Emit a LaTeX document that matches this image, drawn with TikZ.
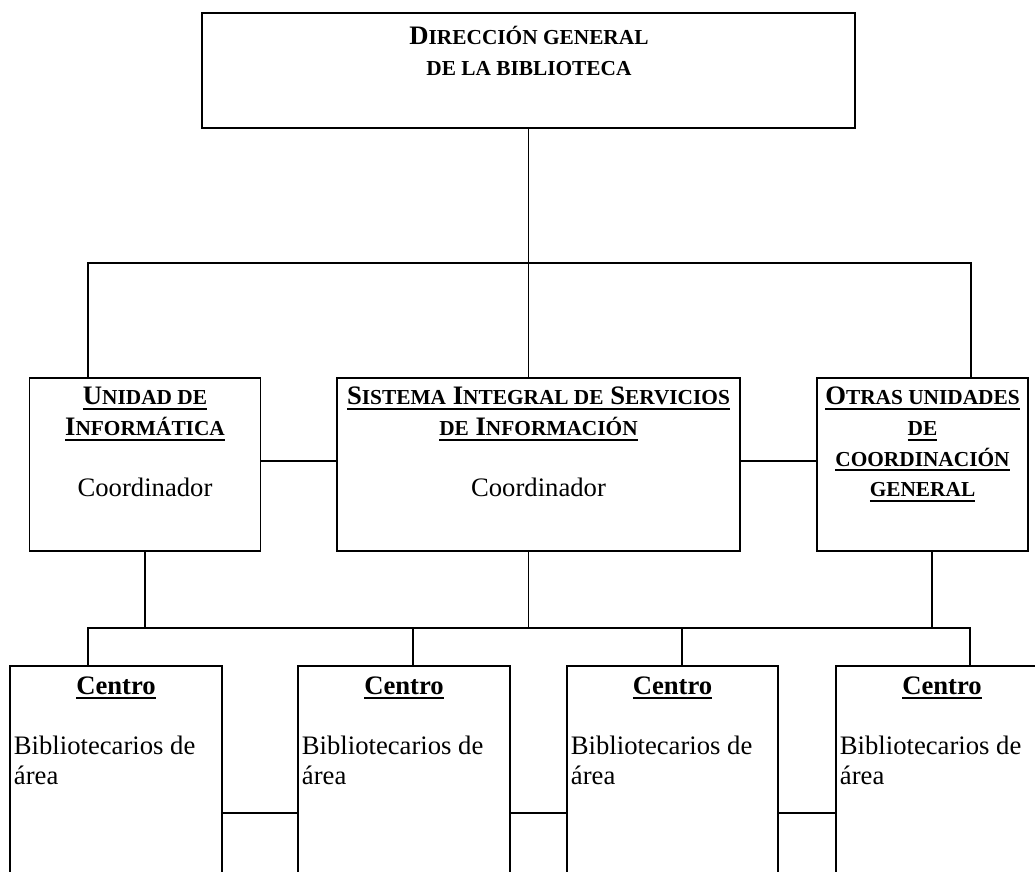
\documentclass[tikz,border=0pt]{standalone}
\usepackage{fontspec}
\setmainfont{Liberation Serif}
\usetikzlibrary{positioning}

% fake small caps and a heavy underline, as in the original chart
\newcommand\smc[1]{{\fontsize{9.6}{13.8}\selectfont\MakeUppercase{#1}}}
\newcommand\ul[1]{\setbox0\hbox{#1}\leavevmode\rlap{\rule[-2.3pt]{\wd0}{0.9pt}}\box0}
\newcommand\cstack[1]{\begin{tabular}[t]{@{}c@{}}#1\end{tabular}}
\newcommand\lstack[1]{\begin{tabular}[t]{@{}l@{}}#1\end{tabular}}

\begin{document}
\begin{tikzpicture}[
    x=0.45pt, y=-0.45pt,
    orgbox/.style 2 args={draw, line width=0.5pt, inner sep=0pt, minimum width=#1*0.45pt, minimum height=#2*0.45pt},
    headtxt/.style={inner sep=0pt, anchor=base, font=\fontsize{12}{13.8}\selectfont\bfseries},
    bodytxt/.style={inner sep=0pt, anchor=base west, font=\fontsize{12}{13.8}\selectfont},
    link/.style={line width=0.5pt}
]
\useasboundingbox (0,0) rectangle (1035,872);
\clip (0,0) rectangle (1035,872);

% Top
\node[orgbox={653}{115}, line width=0.9pt] (dir) at (528.5,70.5) {};
\node[headtxt] (dirtxt) at (529,45) {\cstack{D\smc{irección general}\\ \smc{de la biblioteca}}};

% Coordination units
\node[orgbox={231}{173}] (uinf) at (145,464.5) {};
\node[headtxt] (uinftxt) at (145,405) {\cstack{\ul{U\smc{nidad de}}\\ \ul{I\smc{nformática}}\\ \\ \mdseries Coordinador}};

\node[orgbox={403}{173}] (sis) at (538.5,464.5) {};
\node[headtxt] (sistxt) at (538.5,405) {\cstack{\ul{S\smc{istema} I\smc{ntegral de} S\smc{ervicios}}\\ \ul{\smc{de} I\smc{nformación}}\\ \\ \mdseries Coordinador}};

\node[orgbox={211}{173}] (otras) at (922.5,464.5) {};
\node[headtxt] (otrastxt) at (922.5,405) {\cstack{\ul{O\smc{tras unidades}}\\ \ul{\smc{de}}\\ \ul{\smc{coordinación}}\\ \ul{\smc{general}}}};

% Centros
\node[orgbox={212}{300}] (c1) at (116,816) {};
\node[headtxt] (c1title) at (116,694) {\ul{Centro}};
\node[bodytxt] (c1body) at (13.5,754) {\lstack{Bibliotecarios de\\ área}};

\node[orgbox={212}{300}] (c2) at (404,816) {};
\node[headtxt] (c2title) at (404,694) {\ul{Centro}};
\node[bodytxt] (c2body) at (301.5,754) {\lstack{Bibliotecarios de\\ área}};

\node[orgbox={211}{300}] (c3) at (672.5,816) {};
\node[headtxt] (c3title) at (672.5,694) {\ul{Centro}};
\node[bodytxt] (c3body) at (570.5,754) {\lstack{Bibliotecarios de\\ área}};

\node[orgbox={212}{300}] (c4) at (942,816) {};
\node[headtxt] (c4title) at (942,694) {\ul{Centro}};
\node[bodytxt] (c4body) at (839.5,754) {\lstack{Bibliotecarios de\\ área}};

% Upper bus
\coordinate (topbusM) at (528.5,263);
\coordinate (topbusL) at (88,263);
\coordinate (topbusR) at (971,263);
\draw[link] (dir.south) -- (topbusM);
\draw[link] (uinf.north -| topbusL) -- (topbusL) -- (topbusR) -- (otras.north -| topbusR);
\draw[link] (topbusM) -- (sis.north -| topbusM);

% Side links
\coordinate (midrow) at (0,461);
\draw[link] (uinf.east |- midrow) -- (sis.west |- midrow);
\draw[link] (sis.east |- midrow) -- (otras.west |- midrow);

% Lower bus
\coordinate (lowbusL) at (88,628);
\coordinate (lowbusR) at (970,628);
\coordinate (otrasdrop) at (932,628);
\coordinate (c2drop) at (413,628);
\coordinate (c3drop) at (682,628);
\draw[link] (uinf.south) -- (uinf.south |- lowbusL);
\draw[link] (sis.south -| topbusM) -- (topbusM |- lowbusL);
\draw[link] (otras.south -| otrasdrop) -- (otrasdrop);
\draw[link] (c1.north -| lowbusL) -- (lowbusL) -- (lowbusR) -- (c4.north -| lowbusR);
\draw[link] (c2drop) -- (c2.north -| c2drop);
\draw[link] (c3drop) -- (c3.north -| c3drop);

% Links between centros
\coordinate (botrow) at (0,813);
\draw[link] (c1.east |- botrow) -- (c2.west |- botrow);
\draw[link] (c2.east |- botrow) -- (c3.west |- botrow);
\draw[link] (c3.east |- botrow) -- (c4.west |- botrow);

\end{tikzpicture}
\end{document}
